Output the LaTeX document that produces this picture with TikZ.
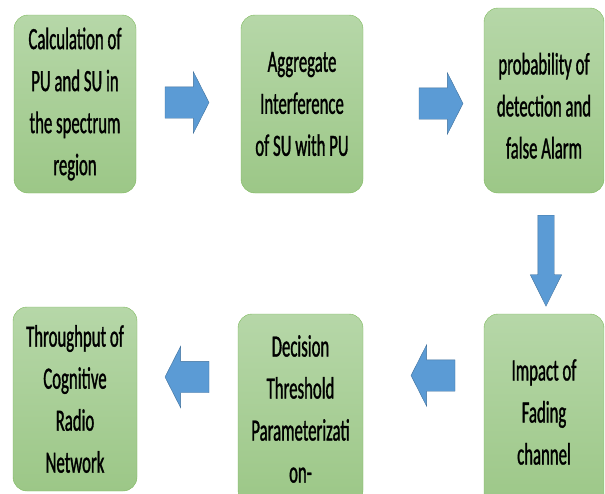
\documentclass[tikz,border=0pt]{standalone}
\usepackage{fontspec}
\setmainfont{Carlito}
\newfontfamily\stagefont[FakeStretch=0.54,FakeBold=1]{Carlito}
\usetikzlibrary{shapes.arrows}
\definecolor{StageTop}{HTML}{B6D7A8}
\definecolor{StageBottom}{HTML}{9CC787}
\definecolor{StageEdge}{HTML}{7DB85C}
\definecolor{FlowBlue}{HTML}{5B9BD5}
\definecolor{FlowEdge}{HTML}{41719C}

\begin{document}
\begin{tikzpicture}[x=1pt,y=-1pt,
  stage/.style={rounded corners=14pt,draw=StageEdge,thin,
    top color=StageTop,bottom color=StageBottom,
    minimum width=122pt,inner sep=0pt,align=center,
    font=\stagefont\fontsize{31}{42}\selectfont},
  flow/.style={single arrow,draw=FlowEdge,thin,fill=FlowBlue,
    inner xsep=0pt,inner ysep=15.5pt,single arrow head extend=15pt,
    minimum height=44pt,single arrow tip angle=126}]
\useasboundingbox (0,0) rectangle (605,493);
\clip (0,0) rectangle (605,493);
% first row
\node[stage,minimum height=178pt] (calc) at (75,104)
 {Calculation of\\PU and SU in\\the spectrum\\region};
\node[stage,minimum height=178pt] (aggr) at (302,104)
 {Aggregate\\Interference\\of SU with PU};
\node[stage,minimum height=185pt,minimum width=120pt] (prob) at (544,100.5)
 {\\[-10pt]probability of\\detection and\\false Alarm};
% second row
\node[stage,minimum height=196pt,minimum width=120pt] (fade) at (544,412)
 {Impact of\\Fading\\channel};
\node[stage,minimum height=190pt,minimum width=125pt] (thres) at (300.5,409)
 {Decision\\Threshold\\Parameterizati\\on-};
\node[stage,minimum height=184pt,minimum width=124pt] (thru) at (75,399)
 {Throughput of\\Cognitive\\Radio\\Network};
% block arrows
\node[flow] (f1) at (183,102.5) {};
\node[flow] (f2) at (437,103.5) {};
\node[flow,rotate=-90,minimum height=91pt,inner ysep=8pt,
  single arrow head extend=7.5pt,single arrow tip angle=53] (f3) at (546,252.5) {};
\node[flow,rotate=180] (f4) at (437,375.5) {};
\node[flow,rotate=180] (f5) at (191,377) {};
\end{tikzpicture}
\end{document}
